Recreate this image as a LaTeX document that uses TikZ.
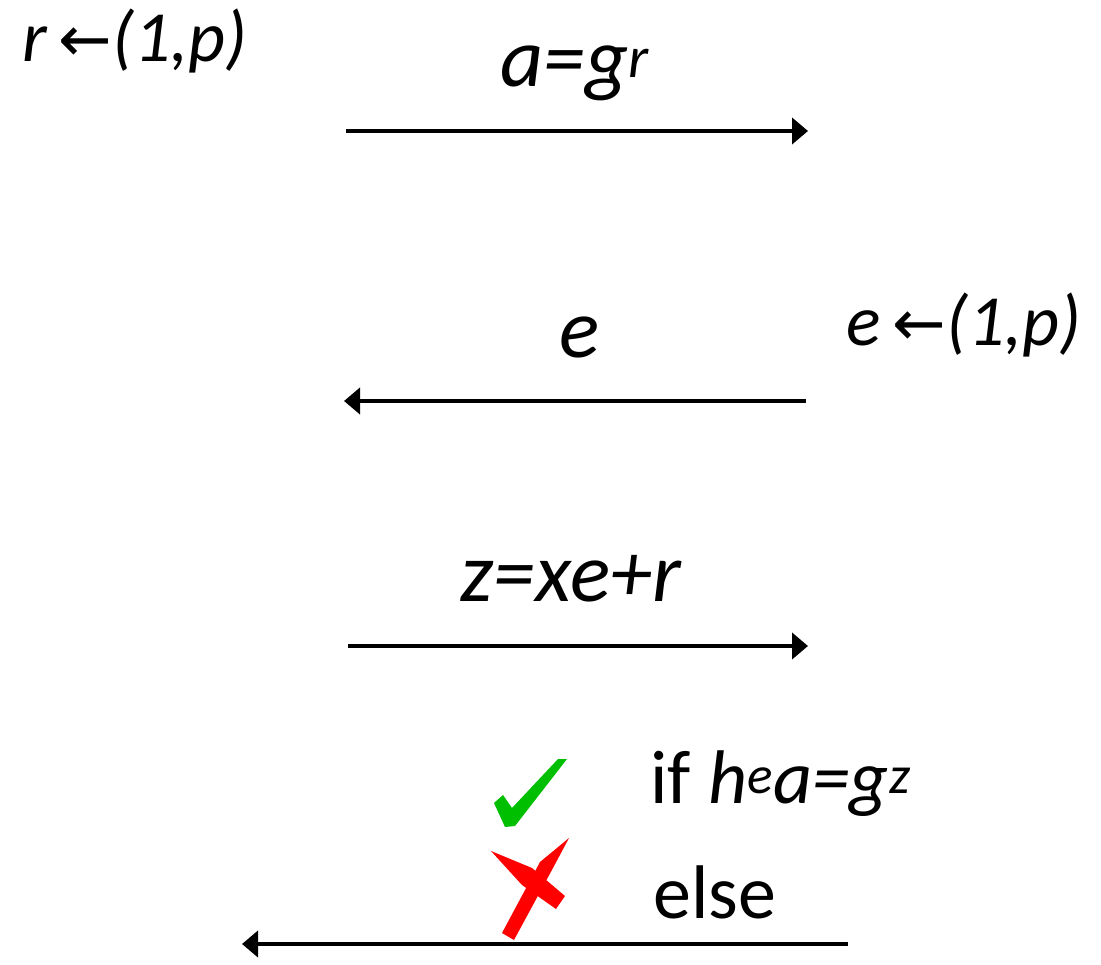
\documentclass[tikz,border=0pt]{standalone}
\usepackage{fontspec}
\setmainfont{Carlito}
\newfontfamily\arrowfont{DejaVu Sans}
\usetikzlibrary{arrows.meta}

\newcommand{\getsfrom}{{\arrowfont\fontsize{64}{70}\selectfont\char"2190}}
\newcommand{\sps}[1]{\textsuperscript{\itshape #1}}

\begin{document}
\begin{tikzpicture}[x=1pt, y=-1pt,
  lbl/.style={font=\fontsize{84}{96}\selectfont\itshape, inner sep=0pt, anchor=base},
  pick/.style={font=\fontsize{72}{84}\selectfont\itshape, inner sep=0pt, anchor=base west},
  note/.style={font=\fontsize{76}{88}\selectfont, inner sep=0pt, anchor=base west},
  msg/.style={-{Triangle[length=16pt, width=26pt]}, line width=4pt}]
\useasboundingbox (0,0) rectangle (1101,965);
% choices
\node[pick] (rpick) at (22,62) {r\,\getsfrom(1,p)};
\node[pick] (epick) at (846,346) {e\,\getsfrom(1,p)};
% end points of the messages
\coordinate (a1) at (346,131);  \coordinate (a2) at (808,131);
\coordinate (e1) at (806,401);  \coordinate (e2) at (344,401);
\coordinate (z1) at (348,646);  \coordinate (z2) at (808,646);
\coordinate (v1) at (848,944);  \coordinate (v2) at (242,944);
\draw[msg] (a1) -- (a2);
\draw[msg] (e1) -- (e2);
\draw[msg] (z1) -- (z2);
\draw[msg] (v1) -- (v2);
\node[lbl] (alabel) at (575,87) {a=g\sps{r}};
\node[lbl] (elabel) at (580,358) {e};
\node[lbl] (zlabel) at (571,601) {z=xe+r};
% verdict
\fill[green!75!black] (494,803) -- (503,795) -- (512,808) -- (558,759) -- (567,759)
  -- (515,826) -- (505,827) -- cycle;
\fill[red] (491,851) -- (532,868) -- (565,896) -- (556,909) -- (522,885) -- cycle;
\fill[red] (569,838) -- (553,868) -- (514,940) -- (502,933) -- (540,862) -- cycle;
\node[note] (okay) at (650,803) {if \textit{h\sps{e}a=g\sps{z}}};
\node[note] (fail) at (653,918) {else};
\end{tikzpicture}
\end{document}
